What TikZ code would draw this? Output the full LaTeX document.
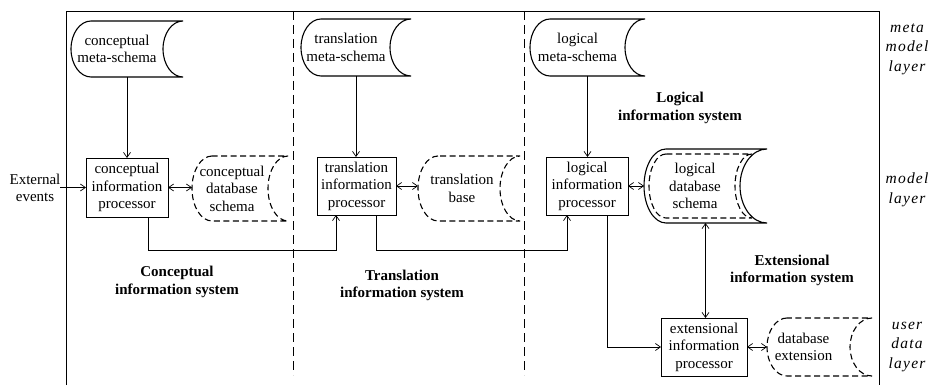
\documentclass[tikz,border=0pt]{standalone}
\usepackage{fontspec}
\setmainfont{Liberation Serif}
\newfontfamily\layerfont[LetterSpace=8]{Liberation Serif}
\usetikzlibrary{arrows.meta,calc}
\newcommand\storeshape[5]{%
  \draw[#1] let \p1=#2, \p2=#3, \n1={(\y1-\y2)/2} in
    (\x1+#4pt,\y1) arc[start angle=90,end angle=270,x radius=#4pt,y radius=\n1]
    -- (\x2,\y2) arc[start angle=270,end angle=90,x radius=#5pt,y radius=\n1] -- cycle;}
\begin{document}
\begin{tikzpicture}[x=1pt,y=1pt,
  every node/.style={outer sep=0pt},
  txt/.style={font=\fontsize{15}{17.5}\selectfont, align=center, inner sep=0pt},
  bold/.style={align=center, inner sep=0pt, font=\fontsize{15}{17.5}\selectfont\bfseries},
  lay/.style={align=center, inner sep=0pt, font=\layerfont\itshape\fontsize{15.5}{19.5}\selectfont},
  proc/.style={draw, line width=0.7pt, txt},
  store/.style={inner sep=0pt},
  arr/.style={line width=0.7pt,-{Straight Barb[length=5pt,width=7pt]}},
  dbl/.style={line width=0.7pt,{Straight Barb[length=5pt,width=7pt]}-{Straight Barb[length=5pt,width=7pt]}},
  sline/.style={line width=1.1pt},
  dline/.style={line width=1.1pt, dash pattern=on 6pt off 3.5pt},
  sepline/.style={line width=0.7pt, dash pattern=on 9pt off 5pt}
]
\useasboundingbox (0,0) rectangle (933,-385);

% frame and separators
\draw[line width=0.7pt] (66,-385) -- (66,-11) -- (879,-11) -- (879,-385);
\draw[sepline] (293,-11) -- (293,-375);
\draw[sepline] (524,-11) -- (524,-375);

% processors
\node[proc, minimum width=82pt, minimum height=59pt] (cproc) at (127,-187.5) {conceptual\\information\\processor};
\node[proc, minimum width=79pt, minimum height=58pt] (tproc) at (356.5,-186) {translation\\information\\processor};
\node[proc, minimum width=82pt, minimum height=58pt] (lproc) at (587,-186) {logical\\information\\processor};
\node[proc, minimum width=86pt, minimum height=58pt] (eproc) at (704,-347) {extensional\\information\\processor};

% stores
\node[store, minimum width=112pt, minimum height=56pt] (cms) at (127,-49) {};
\node[txt] (cmsT) at ($(cms)+(-10,0)$) {conceptual\\meta-schema};
\node[store, minimum width=110pt, minimum height=57pt] (tms) at (356,-47.5) {};
\node[txt] (tmsT) at ($(tms)+(-10,0)$) {translation\\meta-schema};
\node[store, minimum width=115pt, minimum height=57pt] (lms) at (587.5,-47.5) {};
\node[txt] (lmsT) at ($(lms)+(-10,0)$) {logical\\meta-schema};
\node[store, minimum width=96pt, minimum height=65pt] (cds) at (240,-188.5) {};
\node[txt] (cdsT) at ($(cds)+(-8,0)$) {conceptual\\database\\schema};
\node[store, minimum width=102pt, minimum height=65pt] (tb) at (469,-188.5) {};
\node[txt] (tbT) at ($(tb)+(-7,0)$) {translation\\base};
\node[store, minimum width=123pt, minimum height=74pt] (lds) at (705.5,-186) {};
\node[txt] (ldsT) at ($(lds)+(-10.5,0)$) {logical\\database\\schema};
\node[store, minimum width=105pt, minimum height=58pt] (dbx) at (819.5,-347) {};
\node[txt] (dbxT) at ($(dbx)+(-16,0)$) {database\\extension};

\storeshape{sline}{(cms.north west)}{(cms.south east)}{20}{20}
\storeshape{sline}{(tms.north west)}{(tms.south east)}{20}{21}
\storeshape{sline}{(lms.north west)}{(lms.south east)}{20}{20}
\storeshape{dline}{(cds.north west)}{(cds.south east)}{20}{20}
\storeshape{dline}{(tb.north west)}{(tb.south east)}{20}{20}
\storeshape{sline}{(lds.north west)}{(lds.south east)}{22}{27}
\storeshape{dline}{($(lds.north west)+(5,-5)$)}{($(lds.south east)+(-15,5)$)}{17}{17}
\storeshape{dline}{(dbx.north west)}{(dbx.south east)}{20}{22}

% labels
\node[txt] (ext) at (35,-188) {External\\events};
\node[bold] (lis) at (680,-108) {Logical\\information system};
\node[bold] (cis) at (177,-282) {Conceptual\\information system};
\node[bold] (tis) at (402,-285.5) {Translation\\information system};
\node[bold] (eis) at (792,-270.5) {Extensional\\information system};
\node[lay] (l1) at (907,-49) {meta\\model\\layer};
\node[lay] (l2) at (907,-190) {model\\layer};
\node[lay] (l3) at (907,-347) {user\\data\\layer};

% connectors
\draw[arr] (cms.south) -- (cms.south |- cproc.north);
\draw[arr] (tms.south) -- (tms.south |- tproc.north);
\draw[arr] (lms.south) -- (lms.south |- lproc.north);
\draw[arr] (cproc.west -| ext.east) -- (cproc.west);
\draw[dbl] (cproc.east) -- (cproc.east -| cds.west);
\draw[dbl] (tproc.east) -- (tproc.east -| tb.west);
\draw[dbl] (lproc.east) -- (lproc.east -| lds.west);
\draw[dbl] (eproc.east) -- (eproc.east -| dbx.west);
\draw[dbl] (lds.south) -- (lds.south |- eproc.north);
\draw[arr] ($(cproc.south east)+(-20,0)$) -- ++(0,-33) -| ($(tproc.south west)+(19,0)$);
\draw[arr] ($(tproc.south east)+(-20,0)$) -- ++(0,-35) -| ($(lproc.south west)+(21,0)$);
\draw[arr] ($(lproc.south east)+(-21,0)$) |- (eproc.west);
\end{tikzpicture}
\end{document}
